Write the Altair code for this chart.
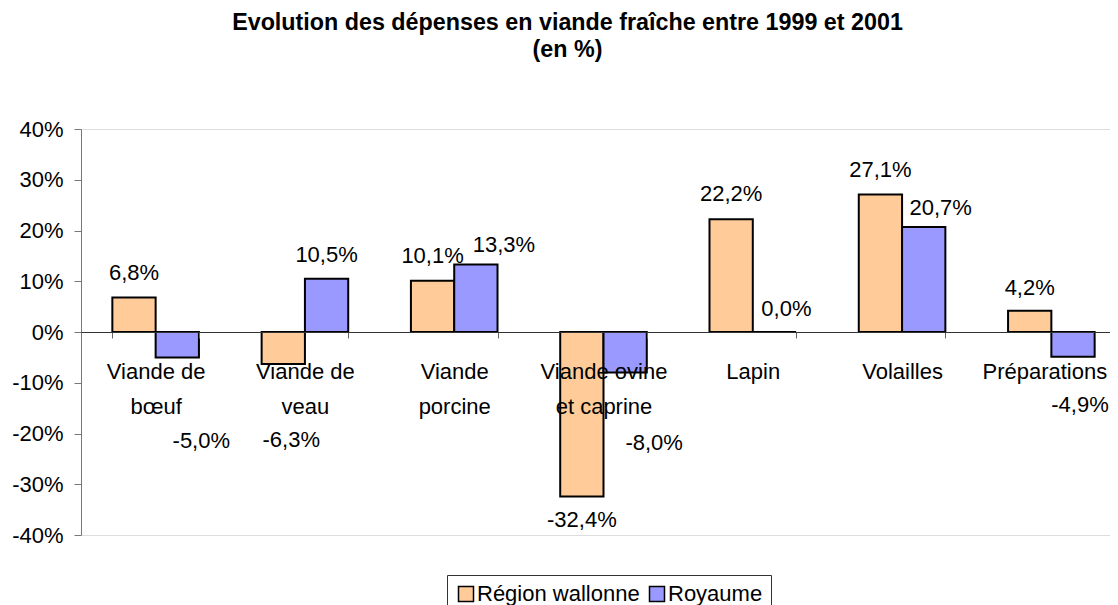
import altair as alt
import pandas as pd

categories = ["Viande de\nbœuf", "Viande de\nveau", "Viande\nporcine",
              "Viande ovine\net caprine", "Lapin", "Volailles", "Préparations"]
series = ["Région wallonne", "Royaume"]
wallonne = [6.8, -6.3, 10.1, -32.4, 22.2, 27.1, 4.2]
royaume = [-5.0, 10.5, 13.3, -8.0, 0.0, 20.7, -4.9]
y_ticks = [-40, -30, -20, -10, 0, 10, 20, 30, 40]
colors = ["#FFCC99", "#9999FF"]

# manual label nudges (pixels) as in the original chart
wallonne_dx = [0, 8, 0, 0, 0, 0, 0]
wallonne_dy = [-24, 76, -25, 24, -25, -24, -23]
royaume_dx = [24, 0, 28, 29, 12, 17, 7]
royaume_dy = [84, -24, -20, 70, -23, -19, 48]

rows = []
for i, c in enumerate(categories):
    for s, vals, dxs, dys in [(series[0], wallonne, wallonne_dx, wallonne_dy),
                              (series[1], royaume, royaume_dx, royaume_dy)]:
        v = vals[i]
        rows.append({"cat": c, "series": s, "value": v,
                     "label": f"{v:.1f}".replace(".", ",") + "%",
                     "dx": dxs[i], "dy": dys[i]})
df = pd.DataFrame(rows)

FONT = "Liberation Sans"

x_enc = alt.X("cat:N", sort=categories,
              scale=alt.Scale(range=[0, 1045], paddingInner=0.42, paddingOuter=0.21),
              axis=alt.Axis(title=None, orient="bottom", offset=-203, zindex=1,
                            domainColor="#333333", domainWidth=1,
                            tickColor="#666666", tickSize=6, tickBand="extent",
                            labelFont=FONT, labelFontSize=22, labelColor="black",
                            labelPadding=23, labelBaseline="top",
                            labelExpr="split(datum.label, '\\n')",
                            labelOffset={"condition": {"test": "datum.value == 'Préparations'",
                                                       "value": -7}, "value": 0},
                            labelLineHeight=35, labelAngle=0, labelLimit=0))
y_enc = alt.Y("value:Q",
              scale=alt.Scale(domain=[-40, 40], nice=False, zero=False),
              axis=alt.Axis(title=None, values=y_ticks, grid=False,
                            domainColor="#777777", tickColor="#777777",
                            tickSize=7, labelPadding=11,
                            labelFont=FONT, labelFontSize=22, labelColor="black",
                            labelExpr="datum.value + '%'"))
xo_enc = alt.XOffset("series:N", sort=series)

bars = alt.Chart(df).mark_bar(stroke="black", strokeWidth=2).encode(
    x=x_enc, y=y_enc, xOffset=xo_enc,
    color=alt.Color("series:N", sort=series,
                    scale=alt.Scale(domain=series, range=colors),
                    legend=alt.Legend(title=None, orient="none", legendX=366, legendY=446,
                                      direction="horizontal", symbolType="square",
                                      symbolSize=225, symbolStrokeColor="black",
                                      symbolStrokeWidth=1.5, labelFont=FONT,
                                      labelFontSize=22, labelColor="black",
                                      labelLimit=0,
                                      strokeColor="#333333", padding=8,
                                      columnPadding=6, labelOffset=0)),
)

labels = alt.Chart(df).mark_text(
    font=FONT, fontSize=22, color="black", align="center", baseline="middle",
    dx=alt.ExprRef(expr="datum.dx"), dy=alt.ExprRef(expr="datum.dy"),
).encode(x=x_enc, y=y_enc, xOffset=xo_enc, text="label:N")

chart = alt.layer(bars, labels).properties(
    width=1029, height=406,
    autosize=alt.AutoSizeParams(type="none"),
    padding={"left": 73, "top": 121, "right": 0, "bottom": 70},
    title=alt.TitleParams(
        text=["Evolution des dépenses en viande fraîche entre 1999 et 2001", "(en %)"],
        font=FONT, fontSize=23.3, fontWeight="bold", color="black",
        anchor="middle", frame="group", dx=-28, offset=56, lineHeight=27),
).configure_view(stroke=None).configure(font=FONT, background="white")

chart.save("out.html", embed_options={"renderer": "svg", "actions": False})
